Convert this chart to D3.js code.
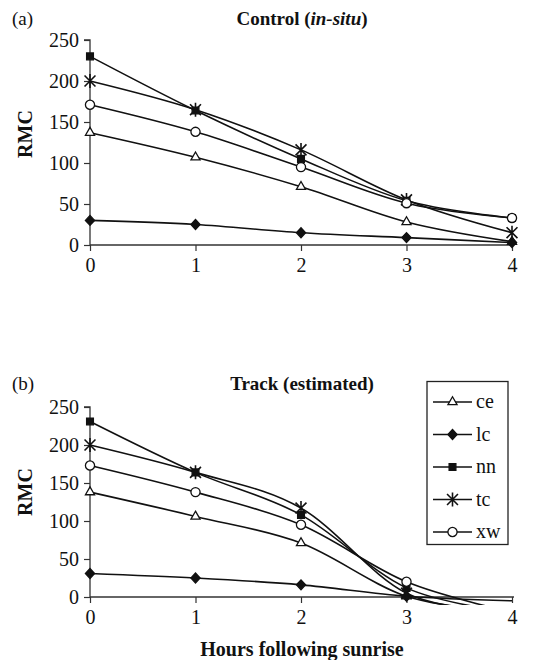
<!DOCTYPE html>
<html>
<head>
<meta charset="utf-8">
<script src="https://cdn.jsdelivr.net/npm/d3@7"></script>
<style>
  html, body { margin: 0; padding: 0; background: #fff; }
  svg { display: block; }
  text { font-family: "Liberation Serif", "Times New Roman", serif; fill: #111; }
</style>
</head>
<body>
<svg id="chart" width="547" height="660"></svg>
<script>
// ---- data ----
const hours = [0, 1, 2, 3, 4];
const hourTicks = [0, 1, 2, 3, 4];
const rmcTicks = [0, 50, 100, 150, 200, 250];
const seriesNames = ["ce", "lc", "nn", "tc", "xw"];

// Panel (a): Control (in-situ)
const controlCe = [137, 107, 71, 28, 4];
const controlLc = [30, 25, 15, 9, 3];
const controlNn = [230, 164, 105, 54, 33];
const controlTc = [200, 165, 116, 55, 15];
const controlXw = [171, 138, 95, 51, 33];

// Panel (b): Track (estimated)
const trackCe = [138, 106, 71, 1, -20];
const trackLc = [31, 25, 16, 1, -5];
const trackNn = [231, 164, 108, 12, -20];
const trackTc = [200, 164, 117, 5, -20];
const trackXw = [173, 138, 95, 20, -20];

// ---- drawing ----
const svg = d3.select("#chart");
const stroke = "#111";

function markerPath(name) {
  if (name === "ce") return d3.symbol().type(d3.symbolTriangle).size(36)();
  if (name === "lc") return "M0,-5L4.6,0L0,5L-4.6,0Z";
  if (name === "nn") return d3.symbol().type(d3.symbolSquare).size(46)();
  if (name === "xw") return d3.symbol().type(d3.symbolCircle).size(66)();
  // tc: asterisk (X plus vertical bar)
  const r = 7;
  const d = r * 0.78;
  return `M${-d},${-d}L${d},${d}M${-d},${d}L${d},${-d}M0,${-r}L0,${r}`;
}
function markerFill(name) {
  return (name === "lc" || name === "nn") ? stroke : (name === "tc" ? "none" : "#fff");
}
function drawMarker(g, name, x, y) {
  g.append("path")
    .attr("d", markerPath(name))
    .attr("transform", `translate(${x},${y})`)
    .attr("fill", markerFill(name))
    .attr("stroke", stroke)
    .attr("stroke-width", name === "tc" ? 1.6 : 1.3);
}

function panel(opts) {
  const x = d3.scaleLinear().domain([0, 4]).range([90, 512]);
  const y = d3.scaleLinear().domain([0, 250]).range([opts.y0, opts.y250]);
  const g = svg.append("g");

  // clip
  const clipId = "clip" + opts.id;
  svg.append("clipPath").attr("id", clipId)
    .append("rect")
    .attr("x", 80).attr("y", opts.y250 - 20)
    .attr("width", 450)
    .attr("height", y(opts.clipMin) - (opts.y250 - 20));

  // y axis
  const yAxis = g.append("g").attr("transform", "translate(90,0)")
    .call(d3.axisLeft(y).tickValues(rmcTicks).tickSize(6).tickPadding(5).tickFormat(d3.format("d")));
  yAxis.select(".domain").attr("stroke", "#333").attr("stroke-width", 1.3).attr("d", `M-6,${y(250)}H0V${y(0)}`);
  yAxis.selectAll(".tick line").attr("stroke", "#333").attr("stroke-width", 1.2);
  yAxis.selectAll("text").style("font-size", "20px").style("font-family", "Liberation Serif").attr("fill", "#222");

  // x axis at y=0
  const xAxis = g.append("g").attr("transform", `translate(0,${y(0)})`)
    .call(d3.axisBottom(x).tickValues(hourTicks).tickSize(6).tickPadding(7).tickFormat(d3.format("d")));
  xAxis.select(".domain").attr("stroke", "#333").attr("stroke-width", 1.3).attr("d", `M${x(0)},0H${x(4) + 2}`);
  xAxis.selectAll(".tick line").attr("stroke", "#333").attr("stroke-width", 1.2);
  xAxis.selectAll("text").style("font-size", "20px").style("font-family", "Liberation Serif").attr("fill", "#222");

  // lines
  const line = d3.line()
    .x((d, i) => x(hours[i]))
    .y(d => y(d))
    .curve(d3.curveCardinal.tension(0));
  const lg = g.append("g").attr("clip-path", `url(#${clipId})`);
  opts.values.forEach(vals => {
    lg.append("path").attr("d", line(vals))
      .attr("fill", "none").attr("stroke", stroke).attr("stroke-width", 1.6);
  });
  // markers (only where value within plotted range)
  const mg = g.append("g");
  opts.values.forEach((vals, si) => {
    vals.forEach((v, i) => {
      if (v >= 0) drawMarker(mg, seriesNames[si], x(hours[i]), y(v));
    });
  });

  // panel letter
  g.append("text").attr("x", 12).attr("y", opts.titleY).attr("dy", "0.35em")
    .style("font-size", "19px").text(opts.letter);
  // title
  const t = g.append("text").attr("x", 302).attr("y", opts.titleY).attr("dy", "0.35em")
    .attr("text-anchor", "middle").style("font-size", "19px").style("font-weight", "bold");
  opts.title.forEach(part => {
    t.append("tspan").style("font-style", part.italic ? "italic" : "normal").text(part.text);
  });
  // y label
  g.append("text")
    .attr("transform", `translate(25,${opts.rmcY}) rotate(-90)`)
    .attr("dy", "0.35em").attr("text-anchor", "middle")
    .style("font-size", "20px").style("font-weight", "bold").text("RMC");
  return { x, y, g };
}

panel({
  id: "a", y0: 245, y250: 40, clipMin: -10, titleY: 18, rmcY: 134, letter: "(a)",
  title: [{ text: "Control (" }, { text: "in-situ", italic: true }, { text: ")" }],
  values: [controlCe, controlLc, controlNn, controlTc, controlXw]
});

panel({
  id: "b", y0: 597, y250: 407, clipMin: -10.5, titleY: 383, rmcY: 492, letter: "(b)",
  title: [{ text: "Track (estimated)" }],
  values: [trackCe, trackLc, trackNn, trackTc, trackXw]
});

// x axis title
svg.append("text").attr("x", 302).attr("y", 649).attr("dy", "0.35em")
  .attr("text-anchor", "middle").style("font-size", "20px").style("font-weight", "bold")
  .text("Hours following sunrise");

// legend
const leg = svg.append("g");
leg.append("rect").attr("x", 427).attr("y", 381.5).attr("width", 81).attr("height", 163)
  .attr("fill", "#fff").attr("stroke", "#222").attr("stroke-width", 1.3);
seriesNames.forEach((name, i) => {
  const cy = 402 + i * 32.5;
  leg.append("line").attr("x1", 433).attr("x2", 472).attr("y1", cy).attr("y2", cy)
    .attr("stroke", stroke).attr("stroke-width", 1.6);
  drawMarker(leg, name, 452.5, cy);
  leg.append("text").attr("x", 476).attr("y", cy).attr("dy", "0.32em")
    .style("font-size", "20px").text(name);
});
</script>
</body>
</html>
